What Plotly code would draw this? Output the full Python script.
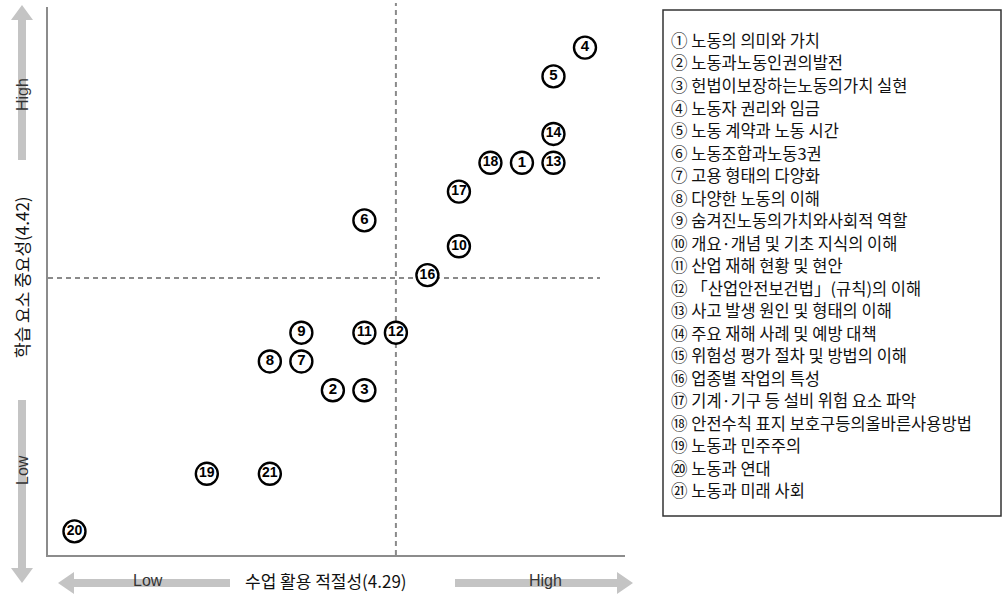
import plotly.graph_objects as go

# ---- data ----
item_ids = [1, 2, 3, 4, 5, 6, 7, 8, 9, 10, 11, 12, 13, 14, 16, 17, 18, 19, 20, 21]
x_suitability = [4.49, 4.19, 4.24, 4.59, 4.54, 4.24, 4.14, 4.09, 4.14, 4.39,
                 4.24, 4.29, 4.54, 4.54, 4.34, 4.39, 4.44, 3.99, 3.78, 4.09]
y_importance = [4.62, 4.225, 4.225, 4.82, 4.77, 4.52, 4.275, 4.275, 4.325, 4.475,
                4.325, 4.325, 4.62, 4.67, 4.425, 4.57, 4.62, 4.08, 3.98, 4.08]
x_mean = 4.29
y_mean = 4.42
x_title = "수업 활용 적절성(4.29)"
y_title = "학습 요소 중요성(4.42)"
legend_labels = [
    "노동의 의미와 가치",
    "노동과노동인권의발전",
    "헌법이보장하는노동의가치 실현",
    "노동자 권리와 임금",
    "노동 계약과 노동 시간",
    "노동조합과노동3권",
    "고용 형태의 다양화",
    "다양한 노동의 이해",
    "숨겨진노동의가치와사회적 역할",
    "개요·개념 및 기초 지식의 이해",
    "산업 재해 현황 및 현안",
    "「산업안전보건법」(규칙)의 이해",
    "사고 발생 원인 및 형태의 이해",
    "주요 재해 사례 및 예방 대책",
    "위험성 평가 절차 및 방법의 이해",
    "업종별 작업의 특성",
    "기계·기구 등 설비 위험 요소 파악",
    "안전수칙 표지 보호구등의올바른사용방법",
    "노동과 민주주의",
    "노동과 연대",
    "노동과 미래 사회",
]

# ---- layout helpers (pixel -> paper) ----
W, H = 1004, 599
L, R, T, B = 48, 625, 7, 555


def px(x):
    return (x - L) / (R - L)


def py(y):
    return (B - y) / (B - T)


def circ(n):
    return chr(0x2460 + n - 1) if n <= 20 else chr(0x3251 + n - 21)


fig = go.Figure()
fig.add_trace(go.Scatter(
    x=x_suitability, y=y_importance, mode="markers+text",
    text=[str(i) for i in item_ids], textposition="middle center",
    marker=dict(size=22, color="white", line=dict(color="black", width=2.4)),
    textfont=dict(family="Liberation Sans Narrow, Liberation Sans, Arial", color="black",
                  weight="bold", size=[15 if i < 10 else 14 for i in item_ids]),
    cliponaxis=False, hoverinfo="skip", showlegend=False,
))

shapes = []
# mean lines
shapes.append(dict(type="line", xref="x", yref="y domain", x0=x_mean, x1=x_mean, y0=0, y1=py(3),
                   line=dict(color="#8a8a8a", width=2, dash="5px,4px"), layer="below"))
shapes.append(dict(type="line", xref="x domain", yref="y", x0=0, x1=px(600), y0=y_mean, y1=y_mean,
                   line=dict(color="#8a8a8a", width=2, dash="5px,4px"), layer="below"))

arrow_col = "#c4c4c4"


def path(points):
    return "M " + " L ".join(f"{px(a):.5f},{py(b):.5f}" for a, b in points) + " Z"


# left vertical arrows
shapes.append(dict(type="path", xref="paper", yref="paper", fillcolor=arrow_col, line=dict(width=0),
                   path=path([(22, 5), (33, 20), (26, 20), (26, 160), (18, 160), (18, 20), (11, 20)])))
shapes.append(dict(type="path", xref="paper", yref="paper", fillcolor=arrow_col, line=dict(width=0),
                   path=path([(22, 583), (33, 568), (26, 568), (26, 400), (18, 400), (18, 568), (11, 568)])))
# bottom horizontal arrows
shapes.append(dict(type="path", xref="paper", yref="paper", fillcolor=arrow_col, line=dict(width=0),
                   path=path([(58, 583), (74, 572), (74, 579), (230, 579), (230, 587), (74, 587), (74, 594)])))
shapes.append(dict(type="path", xref="paper", yref="paper", fillcolor=arrow_col, line=dict(width=0),
                   path=path([(633, 583), (617, 572), (617, 579), (455, 579), (455, 587), (617, 587), (617, 594)])))
# legend box
shapes.append(dict(type="rect", xref="paper", yref="paper", x0=px(663), x1=px(1001), y0=py(10), y1=py(516),
                   line=dict(color="#333333", width=1.5), fillcolor="white"))

ann = []
axis_font = dict(family="Liberation Sans, Arial", size=16, color="#333333")


def add_text(x, y, text, font, angle=0, xanchor="center"):
    ann.append(dict(x=px(x), y=py(y), xref="paper", yref="paper", text=text, textangle=angle,
                    xanchor=xanchor, yanchor="middle", showarrow=False, font=font))


add_text(22, 95, "High", axis_font, -90)
add_text(22, 470, "Low", axis_font, -90)
add_text(21, 277, y_title, dict(family="Noto Sans CJK KR", size=17, color="#111111"), -90)
add_text(148, 581, "Low", axis_font)
add_text(545, 581, "High", axis_font)
add_text(326, 580, x_title, dict(family="Noto Sans CJK KR", size=17, color="#111111"))

for i, lab in enumerate(legend_labels):
    add_text(669, 40 + i * 22.5, f"{circ(i + 1)} {lab}",
             dict(family="Noto Sans CJK KR", size=16.5, color="#111111"), xanchor="left")

fig.update_layout(
    width=W, height=H, autosize=False,
    margin=dict(l=L, r=W - R, t=T, b=H - B, pad=0),
    paper_bgcolor="white", plot_bgcolor="white",
    xaxis=dict(range=[3.738, 4.6535], showgrid=False, zeroline=False, showticklabels=False,
               ticks="", showline=True, linecolor="#8c8c8c", linewidth=1.5, fixedrange=True),
    yaxis=dict(range=[3.939, 4.8905], showgrid=False, zeroline=False, showticklabels=False,
               ticks="", showline=True, linecolor="#8c8c8c", linewidth=1.5, fixedrange=True),
    shapes=shapes, annotations=ann,
)

fig.write_html("out.html", config={"responsive": False, "displayModeBar": False},
               post_script="document.body.style.margin='0';document.body.style.overflow='hidden';")
